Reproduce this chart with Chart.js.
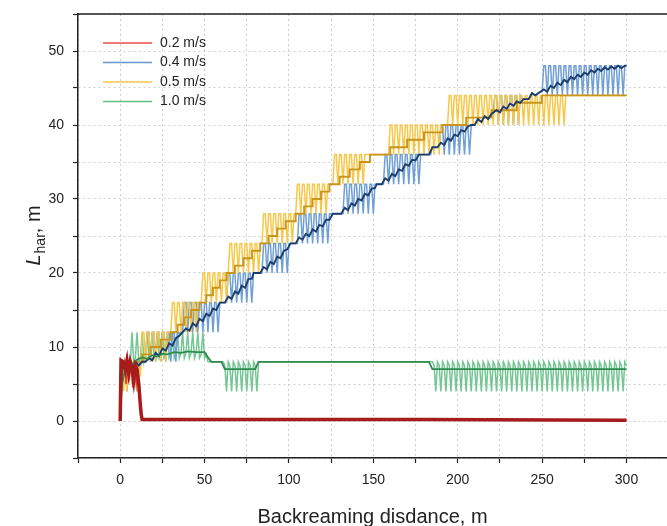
<!DOCTYPE html>
<html>
<head>
<meta charset="utf-8">
<script src="https://cdn.jsdelivr.net/npm/chart.js@4.4.1/dist/chart.umd.min.js"></script>
<style>
  html, body { margin: 0; padding: 0; background: #fff; }
  #wrap { width: 667px; height: 526px; position: relative; }
</style>
</head>
<body>
<div id="wrap"><canvas id="lharChart"></canvas></div>
<script>
// backreaming speeds (legend)
const speeds = ["0.2 m/s", "0.4 m/s", "0.5 m/s", "1.0 m/s"];
const xTickLabels = [0, 50, 100, 150, 200, 250, 300];
const yTickLabels = [0, 10, 20, 30, 40, 50];

// raw L_har traces, one value per metre of backreaming distance (0..300 m)
const lhar04 = [
  0,7,5,8,4,8,8,5,8,8,
  4,8,8,8,8,8,12,12,8,12,
  12,8,12,12,8,12,12,8,12,12,
  8,12,12,8,12,11.8,12,12,16,16,
  12,16,16,12,16,16,12,16,16,12,
  16,16,12,16,16,12,16,16,12,16,
  16,16,16,16,20,20,16,20,20,16,
  20,20,16,20,20,16,20,20,16,20,
  20,20,20,20,20,24,24,20,24,24,
  20,24,24,20,24,24,20,24,24,20,
  24,24,24,24,24,24,28,28,24,28,
  28,24,28,28,24,28,28,24,28,28,
  24,28,28,24,28,28,28,28,28,28,
  28,28,28,32,32,28,32,32,28,32,
  32,28,32,32,28,32,32,28,32,32,
  28,32,32,32,32,32,32,36,36,32,
  36,36,32,36,36,32,36,36,32,36,
  36,32,36,36,32,36,36,32,36,36,
  36,36,36,36,36,37,37,37,37,37,
  40,40,36,40,40,36,40,40,36,40,
  40,36,40,40,36,40,40,36,40,40,
  40,40.4,40.8,40.6,40.4,40.8,41.2,41,40.8,41.2,
  41.5,41.7,44,44,40,44,44,40,44,44,
  40,44,44,40,44,44,40,44,43.5,43.5,
  43.5,43.5,43.5,43.9,44.3,44.1,44,44.2,44.4,44.5,
  44.5,48,48,44,48,48,44,48,48,44,
  48,48,44,48,48,44,48,48,44,48,
  48,44,48,48,44,48,48,44,48,48,
  44,48,48,44,48,48,44,48,48,44,
  48,48,44,48,48,44,48,48,44,48,
  48
];
const lhar05 = [
  0,6,4,7,4,8,8,5,8,8,
  4,8,6,12,12,8,12,12,8,12,
  12,8,12,12,8,12,12,8,12,12,
  12,16,16,12,16,16,12,16,16,12,
  16,16,12,16,16,12,16,16,16,20,
  20,16,20,20,16,20,20,16,20,20,
  16,20,20,16,20,24,24,20,24,24,
  20,24,24,20,24,24,20,24,24,20,
  24,24,20,24,24,28,28,24,28,28,
  24,28,28,24,28,28,24,28,28,24,
  28,28,24,28,28,32,32,28,32,32,
  28,32,32,28,32,32,28,32,32,28,
  32,32,28,32,32,32,32,36,36,32,
  36,36,32,36,36,32,36,36,32,36,
  36,32,36,36,32,36,36,36,36,36,
  36,36,36,36,36,36,36,36,36,36,
  40,40,36,40,40,36,40,40,36,40,
  40,36,40,40,36,40,40,36,40,40,
  36,40,40,36,40,40,36,40,40,36,
  40,40,40,40,40,44,44,40,44,44,
  40,44,44,40,44,44,40,44,44,40,
  44,44,40,44,44,40,44,44,40,44,
  44,40,44,44,40,44,44,40,44,44,
  40,44,44,40,44,44,40,44,44,40,
  44,44,40,44,44,40,44,44,40,44,
  44,40,44,44,40,44,44,40,44,44,
  40,44,44,40,44,44,44,44,44,44,
  44,44,44,44,44,44,44,44,44,44,
  44,44,44,44,44,44,44,44,44,44,
  44,44,44,44,44,44,44,44,44,44,
  44
];
const lhar10 = [
  0,5,8,6,8.5,7.5,8,12,8,8.5,
  12,8,8.5,12,8,9,12,8.5,9,12,
  8.5,9,12,8.5,9,12,8.5,9,12,8.5,
  9,12,8.5,9.2,12,8.5,9.2,12,8.5,9.2,
  12,8.5,9.2,12,8.5,9.2,12,8.5,9,12,
  8.5,9,8,8,8,8,8,8,8,8,
  8,8,7.5,4,8,7.5,4,8,7.5,4,
  8,7.5,4,8,7.5,4,8,7.5,4,8,
  7.5,4,8,8,8,8,8,8,8,8,
  8,8,8,8,8,8,8,8,8,8,
  8,8,8,8,8,8,8,8,8,8,
  8,8,8,8,8,8,8,8,8,8,
  8,8,8,8,8,8,8,8,8,8,
  8,8,8,8,8,8,8,8,8,8,
  8,8,8,8,8,8,8,8,8,8,
  8,8,8,8,8,8,8,8,8,8,
  8,8,8,8,8,8,8,8,8,8,
  8,8,8,8,8,8,8,8,8,8,
  8,8,8,8,8,8,7.5,4,8,7.5,
  4,8,7.5,4,8,7.5,4,8,7.5,4,
  8,7.5,4,8,7.5,4,8,7.5,4,8,
  7.5,4,8,7.5,4,8,7.5,4,8,7.5,
  4,8,7.5,4,8,7.5,4,8,7.5,4,
  8,7.5,4,8,7.5,4,8,7.5,4,8,
  7.5,4,8,7.5,4,8,7.5,4,8,7.5,
  4,8,7.5,4,8,7.5,4,8,7.5,4,
  8,7.5,4,8,7.5,4,8,7.5,4,8,
  7.5,4,8,7.5,4,8,7.5,4,8,7.5,
  4,8,7.5,4,8,7.5,4,8,7.5,4,
  8,7.5,4,8,7.5,4,8,7.5,4,8,
  7.5
];
// 0.2 m/s collapses early, so only [distance, L_har] pairs
const lhar02 = [[0,0],[0.5,8],[1.5,7],[2.5,8],[3.5,5],[4.5,8],[5.5,6],[6.5,8],[7.5,4.5],
  [8.5,7.5],[9.5,5],[10.5,7],[11.5,3],[12.5,1],[13,0.3],[15,0.2],[300,0.1]];

// smoothed (mean) curves, [distance, L_har]
const mean02 = [[0,0],[0.5,8.2],[2,8],[3,7],[4,8.2],[5,6.5],[6,8],[7,7.2],[8,5.5],[9,7.5],
  [10,7],[11,5],[12,2],[12.5,0.8],[13,0.2],[180,0.2],[300,0.1]];
const mean04 = [[0,0],[1,7.5],[3,7],[5,8],[7,7],[9,8],[11,7.5],[13,8],[15,8],
  [17,8.5],[19,8.2],[21,9.2],[23,8.8],[25,9.8],[27,9.5],[29,10.5],[31,10.2],[33,11.2],[35,11.5],[37,12],
  [39,12.5],[41,12.2],[43,13.2],[45,12.8],[47,13.8],[49,13.5],[51,14.5],[53,14.2],[55,15.2],[57,15],[59,16],[62,16],
  [64,16.8],[66,16.5],[68,17.5],[70,17.2],[72,18.3],[74,18],[76,19.2],[78,19.2],[79,20],[83,20],
  [85,20.8],[87,20.5],[89,21.5],[91,21.2],[93,22.2],[95,22],[97,23],[99,23.2],[101,24],[104,24],
  [106,24.8],[108,24.5],[110,25.3],[112,25],[114,25.9],[116,25.6],[118,26.5],[120,26.3],[122,27.2],[124,27.2],[126,28],[131,28],
  [133,28.8],[135,28.5],[137,29.4],[139,29.1],[141,30],[143,29.8],[145,30.7],[147,30.5],[149,31.4],[151,31.5],[152,32],[155,32],
  [157,32.8],[159,32.5],[161,33.4],[163,33.1],[165,34],[167,33.8],[169,34.7],[171,34.5],[173,35.3],[175,35.2],[177,36],
  [183,36],[185,37],[188,37],
  [190,37.6],[192,37.3],[194,38.2],[196,37.9],[198,38.7],[200,38.5],[202,39.3],[204,39.1],[206,39.8],[208,40],
  [210,40],[212,40.8],[214,40.4],[216,41.2],[218,40.8],[220,41.5],
  [223,42],[225,41.7],[227,42.5],[229,42.2],[231,42.9],[233,42.6],[235,43.2],[237,43],[239,43.5],
  [242,43.5],[244,44.3],[246,44],[249,44.5],
  [251,44.8],[253,44.5],[255,45.3],[257,45],[259,45.7],[261,45.4],[263,46.1],[265,45.8],[267,46.5],[269,46.2],
  [271,46.8],[273,46.5],[275,47.1],[277,46.8],[279,47.4],[281,47.1],[283,47.6],[285,47.3],[287,47.8],[289,47.5],
  [291,47.9],[293,47.6],[295,48],[297,47.7],[299,48],[300,48]];
const mean05 = [[0,0],[1,6.5],[3,7],[8,7],[8,8],[13,8],[13,9],[18,9],[18,10],[24,10],[24,11],[30,11],[30,12],
  [34,12],[34,13],[38,13],[38,14],[42,14],[42,15],[47,15],[47,16],[51,16],[51,17],[55,17],[55,18],[59,18],[59,19],
  [63,19],[63,20],[68,20],[68,21],[73,21],[73,22],[78,22],[78,23],[83,23],[83,24],[88,24],[88,25],[93,25],[93,26],
  [98,26],[98,27],[104,27],[104,28],[109,28],[109,29],[114,29],[114,30],[119,30],[119,31],[124,31],[124,32],
  [130,32],[130,33],[136,33],[136,34],[142,34],[142,35],[148,35],[148,36],[160,36],[160,37],[170,37],[170,38],
  [180,38],[180,39],[191,39],[191,40],[205,40],[205,41],[220,41],[220,42],[235,42],[235,43],[250,43],[250,44],[300,44]];
const mean10 = [[0,0],[1,5],[3,7],[5,7.4],[8,7.8],[10,8.3],[13,8.6],[16,8.4],[19,8.9],[22,8.7],[25,9.1],[28,9],
  [32,9.3],[36,9.2],[40,9.4],[45,9.3],[50,9.3],[52,8.6],[54,8],[60,8],[62,7],[80,7],[82,8],[183,8],[185,7],[300,7]];

const perMetre = ys => ys.map((y, i) => ({ x: i, y: y }));
const pairs = pts => pts.map(p => ({ x: p[0], y: p[1] }));

const FONT = "'Liberation Sans', Arial, sans-serif";

function trace(label, data, color, width, order) {
  return { label: label, data: data, borderColor: color, backgroundColor: color,
    borderWidth: width, pointRadius: 0, tension: 0, fill: false, order: order };
}

const datasets = [
  trace(speeds[0], pairs(lhar02), "#e33b35", 1.5, 3),
  trace(speeds[1], perMetre(lhar04), "#6f9fd5", 1.5, 5),
  trace(speeds[2], perMetre(lhar05), "#f6c84c", 1.5, 4),
  trace(speeds[3], perMetre(lhar10), "#74c693", 1.5, 6),
  trace("", pairs(mean05), "#c9951c", 1.9, 2),
  trace("", pairs(mean04), "#1c3d6e", 1.9, 1),
  trace("", pairs(mean10), "#2e8b4e", 1.8, 0),
  trace("", pairs(mean02), "#a81b1b", 3.5, -1)
];
const legendColors = ["#ea4b47", "#6a96cc", "#f5c84e", "#5fbf7f"];

// frame top line, legend and axis titles
const decor = {
  id: "decor",
  afterDraw(chart) {
    const c = chart.ctx, a = chart.chartArea;
    c.save();
    c.strokeStyle = "#222";
    c.lineWidth = 1.5;
    c.beginPath();
    c.moveTo(a.left - 1, a.top);
    c.lineTo(a.right, a.top);
    c.stroke();

    c.font = "14px " + FONT;
    c.textBaseline = "middle";
    c.fillStyle = "#222";
    speeds.forEach((s, i) => {
      const y = 43 + i * 19.5;
      c.strokeStyle = legendColors[i];
      c.lineWidth = 1.6;
      c.beginPath();
      c.moveTo(103, y);
      c.lineTo(152, y);
      c.stroke();
      c.fillText(s, 160, y);
    });

    c.font = "20px " + FONT;
    c.textAlign = "center";
    c.textBaseline = "alphabetic";
    c.fillText("Backreaming disdance, m", (a.left + a.right) / 2, 523);

    c.translate(33, (a.top + a.bottom) / 2);
    c.rotate(-Math.PI / 2);
    c.textAlign = "left";
    const fL = "italic 20px " + FONT, fSub = "14px " + FONT, fM = "20px " + FONT;
    c.font = fL; const wL = c.measureText("L").width;
    c.font = fSub; const wS = c.measureText("har").width;
    c.font = fM; const wM = c.measureText(", m").width;
    let x = -(wL + wS + wM) / 2;
    c.font = fL; c.fillText("L", x, 7); x += wL + 1;
    c.font = fSub; c.fillText("har", x, 12); x += wS;
    c.font = fM; c.fillText(", m", x, 7);
    c.restore();
  }
};

const ctx = document.getElementById("lharChart").getContext("2d");
const chart = new Chart(ctx, {
  type: "line",
  data: { datasets: datasets },
  options: {
    responsive: true,
    maintainAspectRatio: false,
    animation: false,
    layout: { padding: { top: 14, right: 0, left: 0, bottom: 0 } },
    plugins: { legend: { display: false }, tooltip: { enabled: false } },
    scales: {
      x: {
        type: "linear",
        min: -25,
        max: 324,
        afterFit: s => { s.height = 68; s.paddingLeft = 0; s.paddingRight = 0; },
        ticks: {
          stepSize: 25,
          includeBounds: false,
          autoSkip: false,
          maxRotation: 0,
          padding: 9,
          color: "#222",
          font: { size: 14, family: FONT },
          callback: v => xTickLabels.includes(v) ? String(v) : ""
        },
        grid: { color: "#cfcfcf", lineWidth: 1, tickLength: 5, tickColor: "#222", tickWidth: 1.2, tickBorderDash: [] },
        border: { display: true, color: "#222", width: 1.5, dash: [2, 3] }
      },
      y: {
        type: "linear",
        min: -5,
        max: 55,
        afterFit: s => { s.width = 78; s.paddingTop = 0; s.paddingBottom = 0; },
        ticks: {
          stepSize: 5,
          autoSkip: false,
          padding: 9,
          color: "#222",
          font: { size: 14, family: FONT },
          callback: v => yTickLabels.includes(v) ? String(v) : ""
        },
        grid: { color: "#cfcfcf", lineWidth: 1, tickLength: 5, tickColor: "#222", tickWidth: 1.2, tickBorderDash: [] },
        border: { display: true, color: "#222", width: 1.5, dash: [2, 3] }
      }
    }
  },
  plugins: [decor]
});
</script>
</body>
</html>
